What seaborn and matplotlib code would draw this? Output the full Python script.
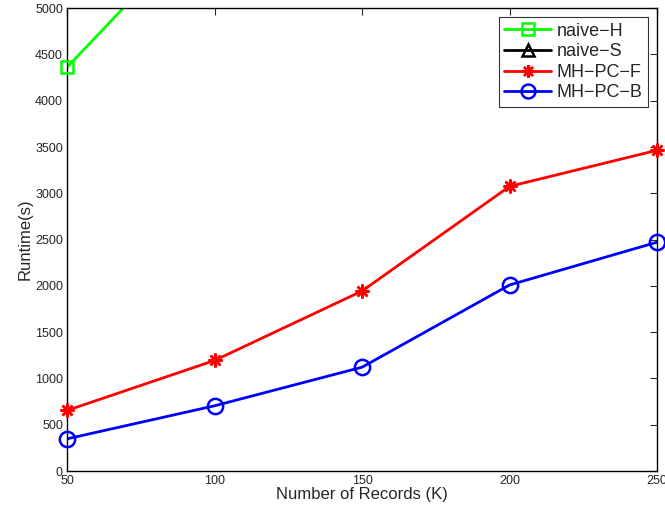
import matplotlib
matplotlib.use("Agg")
import matplotlib.pyplot as plt
import seaborn as sns
import pandas as pd

# records (K)
records = [50, 100, 150, 200, 250]
# runtime (s) per method
naive_h = [4363, 6040, 7900, 9800, 11800]
naive_s = [5600, 9500, 13500, 17500, 21500]
mh_pc_f = [655, 1195, 1945, 3075, 3465]
mh_pc_b = [348, 705, 1122, 2010, 2472]

series_names = ["naive-H", "naive-S", "MH-PC-F", "MH-PC-B"]
series_vals = [naive_h, naive_s, mh_pc_f, mh_pc_b]
colors = ["#00ff00", "#000000", "#ff0000", "#0000ff"]
markers = ["s", "^", (8, 2, 0), "o"]
msizes = [9, 10, 10, 11]

YMAX = 5000

sns.set_style("white")
plt.rcParams["font.family"] = ["Liberation Sans", "DejaVu Sans"]

fig = plt.figure(figsize=(6.65, 5.12), dpi=100)
ax = fig.add_axes([0.101, 0.080, 0.887, 0.904])

for name, vals, c, m, ms in zip(series_names, series_vals, colors, markers, msizes):
    df = pd.DataFrame({"x": records, "y": vals})
    # line (clipped to the frame)
    sns.lineplot(data=df, x="x", y="y", ax=ax, color=c, linewidth=2,
                 marker=m, markersize=ms, markerfacecolor="none",
                 markeredgecolor=c, markeredgewidth=1.8,
                 label=name.replace("-", "\u2212"))
    ax.lines[-1].set_marker("None")
    # markers drawn unclipped, like matlab does
    inside = df[df["y"] <= YMAX]
    if len(inside):
        ax.plot(inside["x"], inside["y"], linestyle="none", marker=m,
                markersize=ms, markerfacecolor="none", markeredgecolor=c,
                markeredgewidth=1.8, clip_on=False, zorder=5)

ax.set_xlim(50, 250)
ax.set_ylim(0, YMAX)
ax.set_xticks(records)
ax.set_yticks(range(0, YMAX + 1, 500))
ax.tick_params(direction="in", top=True, right=True, length=5, width=0.8,
               labelsize=9, pad=3)
for sp in ax.spines.values():
    sp.set_linewidth(1.0)
    sp.set_color("black")
ax.set_xlabel("Number of Records (K)", fontsize=12, labelpad=0)
ax.set_ylabel("Runtime(s)", fontsize=12, labelpad=2)

# legend handles with markers restored
handles = []
for name, c, m, ms in zip(series_names, colors, markers, msizes):
    h, = ax.plot([], [], color=c, linewidth=2, marker=m, markersize=ms - 1,
                 markerfacecolor="none", markeredgecolor=c, markeredgewidth=1.8)
    handles.append(h)
leg = ax.legend(handles, [n.replace("-", "\u2212") for n in series_names],
                loc="upper right", fontsize=13, frameon=True, fancybox=False,
                edgecolor="black", handlelength=2.6, borderpad=0.3,
                labelspacing=0.2, handletextpad=0.3, borderaxespad=0.5)
leg.get_frame().set_linewidth(0.8)

fig.savefig("out.png", dpi=100)
